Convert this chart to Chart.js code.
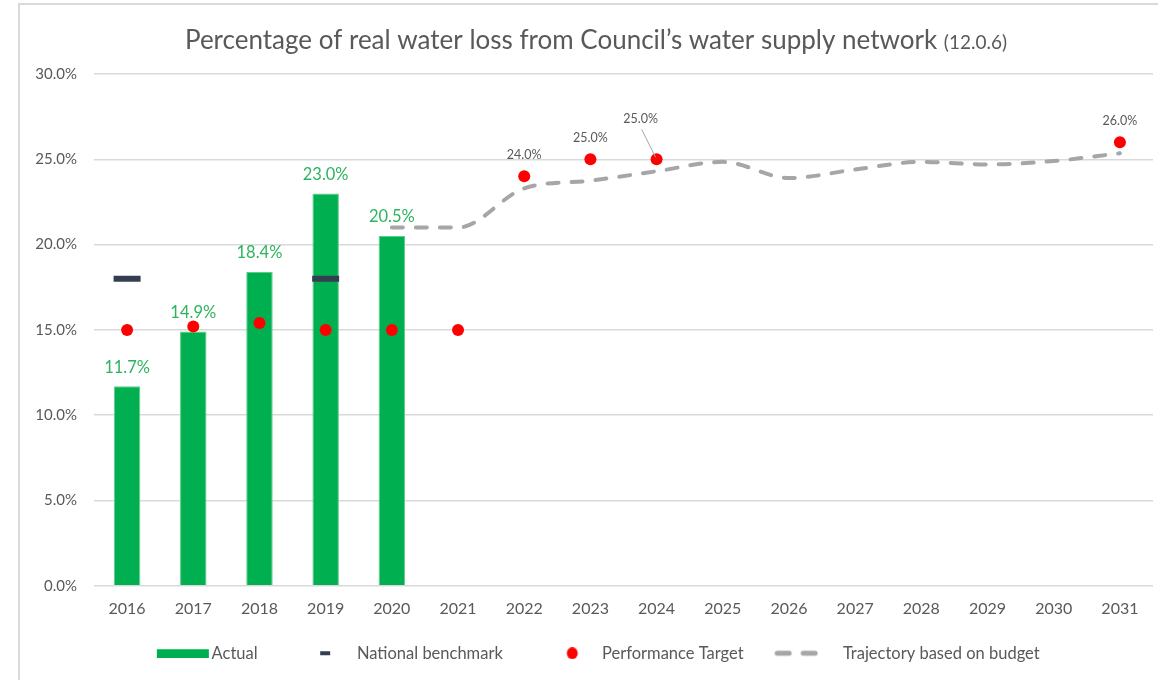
<!DOCTYPE html>
<html>
<head>
<meta charset="utf-8">
<script src="https://cdn.jsdelivr.net/npm/chart.js@4"></script>
<style>
  body { margin: 0; background: #fff; overflow: hidden; }
  canvas { display: block; }
</style>
</head>
<body>
<canvas id="grafica" width="1158" height="680"></canvas>
<script>
// datos
var years = ['2016','2017','2018','2019','2020','2021','2022','2023','2024','2025','2026','2027','2028','2029','2030','2031'];
var actual = [11.7, 14.9, 18.4, 23.0, 20.5, null, null, null, null, null, null, null, null, null, null, null];
var benchmark = [18.0, null, null, 18.0, null, null, null, null, null, null, null, null, null, null, null, null];
var target = [15.0, 15.2, 15.4, 15.0, 15.0, 15.0, 24.0, 25.0, 25.0, null, null, null, null, null, null, 26.0];
var trajectory = [null, null, null, null, 21.0, 21.0, 23.3, 23.75, 24.3, 24.85, 23.9, 24.4, 24.85, 24.7, 24.9, 25.35];
var targetLabelled = ['2022', '2023', '2024', '2031'];
var yTicks = [0, 5, 10, 15, 20, 25, 30];

var fuente = 'Lato, "Open Sans", sans-serif';
var gris = '#595959';

// iconos de la leyenda: lienzo de 160, el dibujo se corre a la derecha del centro
function icono(h, dibujar){
    var c = document.createElement('canvas');
    c.width = 160; c.height = h;
    dibujar(c.getContext('2d'), 80);
    return c;
}
var iconActual = icono(10, function(g, c){ g.fillStyle = '#00B050'; g.fillRect(c + 18 - 26, 1, 52, 9); });
var iconBench = icono(10, function(g, c){ g.fillStyle = '#333F50'; g.fillRect(c + 15 - 5, 3, 10, 4); });
var iconTarget = icono(12, function(g, c){ g.fillStyle = '#FF0000'; g.beginPath(); g.ellipse(c + 17, 6, 5.5, 6, 0, 0, Math.PI*2); g.fill(); });
var iconTray = icono(10, function(g, c){
    var m = c;
    g.strokeStyle = '#A6A6A6'; g.lineWidth = 5; g.lineCap = 'round';
    g.beginPath(); g.moveTo(m - 19, 5); g.lineTo(m - 7, 5); g.moveTo(m + 7, 5); g.lineTo(m + 19, 5); g.stroke();
});
var iconos = [iconActual, iconBench, iconTarget, iconTray];

var marco = {
    id: 'marco',
    beforeDraw: function(chart){
        var ctx = chart.ctx;
        ctx.save();
        ctx.strokeStyle = '#D9D9D9';
        ctx.lineWidth = 2;
        ctx.strokeRect(19, 4, 1300, 1000);
        ctx.restore();
    }
};

var titulo = {
    id: 'titulo',
    afterDraw: function(chart){
        var ctx = chart.ctx;
        var t1 = 'Percentage of real water loss from Council\u2019s water supply network ';
        var t2 = '(12.0.6)';
        ctx.save();
        ctx.fillStyle = gris;
        ctx.textBaseline = 'alphabetic';
        ctx.font = '26px ' + fuente;
        var w1 = ctx.measureText(t1).width;
        ctx.font = '19px ' + fuente;
        var w2 = ctx.measureText(t2).width;
        var x0 = 596 - (w1 + w2) / 2;
        ctx.font = '26px ' + fuente;
        ctx.fillText(t1, x0, 49);
        ctx.font = '19px ' + fuente;
        ctx.fillText(t2, x0 + w1, 49);
        ctx.restore();
    }
};

var etiquetas = {
    id: 'etiquetas',
    afterDatasetsDraw: function(chart){
        var ctx = chart.ctx;
        ctx.save();
        ctx.textAlign = 'center';
        ctx.textBaseline = 'middle';
        ctx.font = '16.5px ' + fuente;
        ctx.fillStyle = '#2DB45E';
        chart.getDatasetMeta(0).data.forEach(function(bar, i){
            if (actual[i] == null) return;
            ctx.fillText(actual[i].toFixed(1) + '%', bar.x, bar.y - 19);
        });
        ctx.font = '12.5px ' + fuente;
        chart.getDatasetMeta(2).data.forEach(function(pt, i){
            if (targetLabelled.indexOf(years[i]) < 0) return;
            var x = pt.x, y = pt.y - 21;
            if (years[i] === '2024') {
                x = pt.x - 16; y = pt.y - 40;
                ctx.strokeStyle = '#A6A6A6';
                ctx.lineWidth = 1;
                ctx.beginPath();
                ctx.moveTo(pt.x - 15, pt.y - 30);
                ctx.lineTo(pt.x - 1, pt.y - 2);
                ctx.stroke();
            }
            ctx.fillStyle = gris;
            ctx.fillText(target[i].toFixed(1) + '%', x, y);
        });
        ctx.restore();
    }
};

var ctx = document.getElementById('grafica').getContext('2d');

var grafica = new Chart(ctx, {
    type: 'bar',
    data: {
        labels: years,
        datasets: [{
            type: 'bar',
            label: 'Actual',
            data: actual,
            backgroundColor: '#00B050',
            borderColor: '#5FCB8A',
            borderWidth: 1,
            barPercentage: 0.4,
            categoryPercentage: 1,
            order: 4
        }, {
            type: 'line',
            label: 'National benchmark',
            data: benchmark,
            showLine: false,
            pointStyle: 'line',
            pointRadius: 13.5,
            pointHoverRadius: 13.5,
            pointBorderWidth: 6,
            borderColor: '#333F50',
            backgroundColor: '#333F50',
            order: 2
        }, {
            type: 'line',
            label: 'Performance Target',
            data: target,
            showLine: false,
            pointRadius: 6,
            pointHoverRadius: 6,
            pointBorderWidth: 0,
            backgroundColor: '#FF0000',
            borderColor: '#FF0000',
            order: 1
        }, {
            type: 'line',
            label: 'Trajectory based on budget',
            data: trajectory,
            borderColor: '#A6A6A6',
            borderWidth: 4,
            borderDash: [11, 13],
            borderCapStyle: 'round',
            cubicInterpolationMode: 'monotone',
            pointRadius: 0,
            fill: false,
            order: 3
        }]
    },
    options: {
        responsive: false,
        animation: false,
        layout: { autoPadding: false, padding: { top: 74, right: 5, left: 13, bottom: 8.5 } },
        plugins: {
            tooltip: { enabled: false },
            legend: {
                position: 'bottom',
                labels: {
                    usePointStyle: true,
                    pointStyleWidth: 77,
                    padding: 14,
                    color: gris,
                    font: { family: fuente, size: 16.5 },
                    generateLabels: function(chart){
                        return chart.data.datasets.map(function(d, i){
                            return {
                                text: d.label,
                                pointStyle: iconos[i],
                                fontColor: gris,
                                lineWidth: 0,
                                strokeStyle: 'transparent',
                                fillStyle: 'transparent',
                                datasetIndex: i,
                                hidden: false
                            };
                        });
                    }
                }
            }
        },
        scales: {
            x: {
                grid: { display: false, drawTicks: false },
                border: { display: false },
                ticks: { color: gris, font: { family: fuente, size: 16 }, padding: 13 }
            },
            y: {
                min: 0,
                max: 30,
                afterFit: function(scale){ scale.width = 81; },
                afterBuildTicks: function(scale){ scale.ticks = yTicks.map(function(v){ return { value: v }; }); },
                grid: { color: '#D9D9D9', lineWidth: 1.5, drawTicks: false },
                border: { display: false },
                ticks: {
                    color: gris,
                    font: { family: fuente, size: 15 },
                    padding: 17,
                    callback: function(v){ return v.toFixed(1) + '%'; }
                }
            }
        }
    },
    plugins: [marco, titulo, etiquetas]
});
</script>
</body>
</html>
